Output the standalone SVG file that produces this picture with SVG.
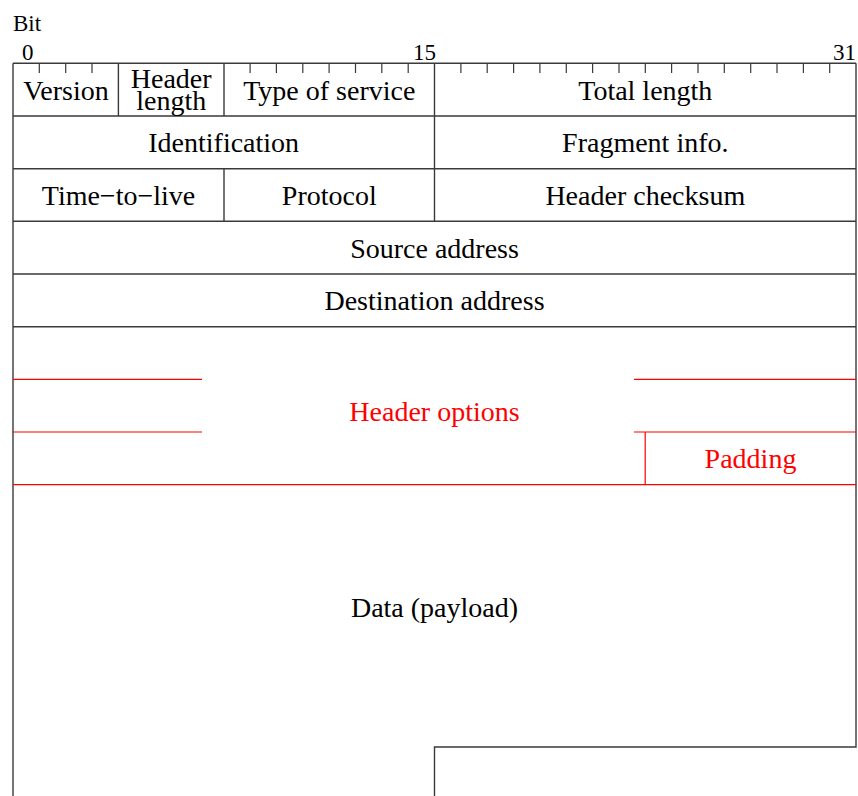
<svg xmlns="http://www.w3.org/2000/svg" width="858" height="796" viewBox="0 0 858 796">
<style>
.g{stroke:#3a3a3a;stroke-width:1.4;fill:none}
.t{stroke:#3a3a3a;stroke-width:1.2}
.r{stroke:#ff0000;stroke-width:1.2;fill:none}
.l{font-family:"Liberation Serif","Times New Roman",serif;font-size:28px;fill:#000;text-anchor:middle}
.red{fill:#ff0000}
.s{font-family:"Liberation Serif","Times New Roman",serif;font-size:23px;fill:#000}
</style>
<rect width="858" height="796" fill="#fff"/>
<g id="scale">
<text class="s" x="13" y="31">Bit</text>
<text class="s" x="22" y="60">0</text>
<text class="s" x="436" y="60" text-anchor="end">15</text>
<text class="s" x="856" y="60" text-anchor="end">31</text>
</g>
<g id="ticks" class="t">
<path d="M39.3 63.3V73M65.7 63.3V73M92 63.3V73M250.1 63.3V73M276.4 63.3V73M302.8 63.3V73M329.1 63.3V73M355.5 63.3V73M381.8 63.3V73M408.2 63.3V73M460.9 63.3V73M487.2 63.3V73M513.6 63.3V73M539.9 63.3V73M566.3 63.3V73M592.6 63.3V73M619 63.3V73M645.3 63.3V73M671.6 63.3V73M698 63.3V73M724.3 63.3V73M750.7 63.3V73M777 63.3V73M803.4 63.3V73M829.7 63.3V73"/>
</g>
<g id="grid" class="g">
<path d="M13 63.3H856M13 116H856M13 168.7H856M13 221.3H856M13 274H856M13 326.7H856"/>
<path d="M13 63.3V796M856 63.3V747H434.5V796"/>
<path d="M118.4 63.3V116M224 63.3V116M434.5 63.3V221.3M224 168.7V221.3"/>
</g>
<g id="options-lines" class="r">
<path d="M13 379.3H202M634 379.3H856M13 432H202M634 432H856M645.2 432V484.7M13 484.7H856"/>
</g>
<g id="version"><text class="l" x="66" y="99.5">Version</text></g>
<g id="header-length"><text class="l" x="171.2" y="88" font-size="26">Header</text><text class="l" x="171.2" y="110" font-size="26">length</text></g>
<g id="type-of-service"><text class="l" x="329.3" y="99.5">Type of service</text></g>
<g id="total-length"><text class="l" x="645.3" y="99.5">Total length</text></g>
<g id="identification"><text class="l" x="223.7" y="152.2">Identification</text></g>
<g id="fragment-info"><text class="l" x="645.3" y="152.2">Fragment info.</text></g>
<g id="time-to-live"><text class="l" x="118.5" y="205">Time−to−live</text></g>
<g id="protocol"><text class="l" x="329.3" y="205">Protocol</text></g>
<g id="header-checksum"><text class="l" x="645.3" y="205">Header checksum</text></g>
<g id="source-address"><text class="l" x="434.5" y="257.6">Source address</text></g>
<g id="destination-address"><text class="l" x="434.5" y="310.3">Destination address</text></g>
<g id="header-options"><text class="l red" x="434.5" y="420.5">Header options</text></g>
<g id="padding"><text class="l red" x="750.5" y="467.8">Padding</text></g>
<g id="data"><text class="l" x="434.5" y="617">Data (payload)</text></g>
</svg>
